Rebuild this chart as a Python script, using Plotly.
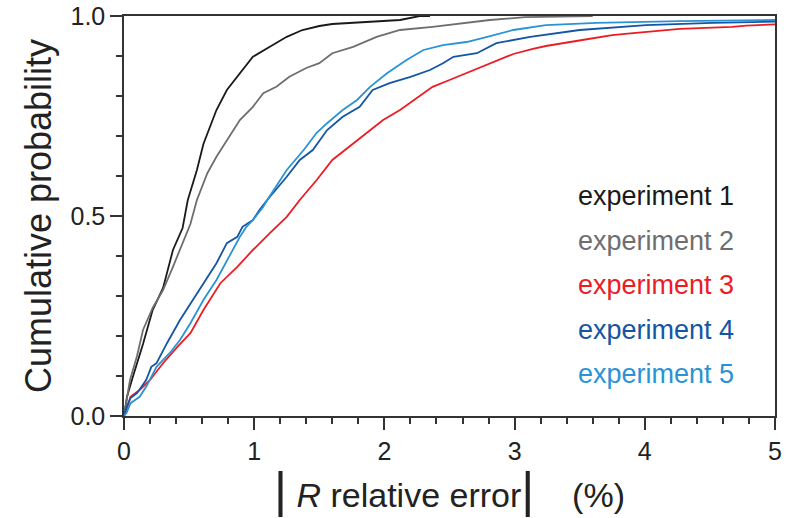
import plotly.graph_objects as go

exp1_x = [0, 0.023, 0.07, 0.146, 0.22, 0.30, 0.376, 0.45, 0.49, 0.56, 0.61, 0.71, 0.79, 0.89, 0.99, 1.12, 1.25, 1.37, 1.50, 1.60, 1.75, 1.94, 2.12, 2.27, 2.35]
exp1_y = [0, 0.048, 0.10, 0.18, 0.265, 0.32, 0.415, 0.47, 0.54, 0.615, 0.68, 0.765, 0.815, 0.857, 0.898, 0.923, 0.948, 0.965, 0.975, 0.980, 0.983, 0.986, 0.990, 1.0, 1.0]

exp2_x = [0, 0.01, 0.046, 0.10, 0.146, 0.22, 0.30, 0.376, 0.45, 0.51, 0.56, 0.64, 0.71, 0.81, 0.89, 0.99, 1.07, 1.17, 1.27, 1.40, 1.50, 1.60, 1.76, 1.94, 2.12, 2.37, 2.58, 2.81, 3.08, 3.52, 3.6]
exp2_y = [0, 0.02, 0.09, 0.15, 0.215, 0.27, 0.315, 0.373, 0.43, 0.48, 0.54, 0.607, 0.648, 0.698, 0.74, 0.773, 0.807, 0.823, 0.848, 0.87, 0.882, 0.907, 0.923, 0.948, 0.965, 0.973, 0.982, 0.990, 0.997, 1.0, 1.0]

exp3_x = [0, 0.02, 0.05, 0.12, 0.20, 0.30, 0.41, 0.51, 0.61, 0.74, 0.87, 0.99, 1.12, 1.25, 1.35, 1.48, 1.60, 1.73, 1.86, 1.99, 2.12, 2.25, 2.37, 2.50, 2.63, 2.76, 2.89, 2.99, 3.14, 3.24, 3.52, 3.75, 3.91, 4.27, 4.67, 4.78, 5.0]
exp3_y = [0, 0.015, 0.048, 0.065, 0.09, 0.132, 0.173, 0.207, 0.265, 0.332, 0.373, 0.415, 0.457, 0.498, 0.54, 0.59, 0.64, 0.673, 0.708, 0.74, 0.765, 0.795, 0.823, 0.84, 0.857, 0.873, 0.89, 0.905, 0.918, 0.925, 0.94, 0.952, 0.957, 0.968, 0.973, 0.976, 0.979]

exp4_x = [0, 0.02, 0.05, 0.10, 0.17, 0.21, 0.25, 0.33, 0.43, 0.53, 0.64, 0.71, 0.79, 0.87, 0.91, 0.99, 1.04, 1.10, 1.25, 1.35, 1.45, 1.56, 1.68, 1.81, 1.91, 2.04, 2.20, 2.35, 2.45, 2.53, 2.71, 2.86, 3.12, 3.50, 4.01, 4.52, 5.0]
exp4_y = [0, 0.023, 0.045, 0.057, 0.09, 0.123, 0.132, 0.182, 0.24, 0.29, 0.348, 0.382, 0.432, 0.448, 0.473, 0.49, 0.515, 0.54, 0.598, 0.64, 0.665, 0.715, 0.748, 0.773, 0.815, 0.832, 0.848, 0.865, 0.882, 0.898, 0.907, 0.932, 0.948, 0.965, 0.977, 0.983, 0.986]

exp5_x = [0, 0.02, 0.05, 0.12, 0.17, 0.25, 0.35, 0.43, 0.51, 0.61, 0.71, 0.81, 0.89, 0.94, 0.99, 1.07, 1.10, 1.25, 1.38, 1.48, 1.56, 1.68, 1.79, 1.89, 2.02, 2.17, 2.30, 2.45, 2.63, 2.79, 2.89, 2.99, 3.24, 3.63, 4.27, 5.0]
exp5_y = [0, 0.008, 0.032, 0.048, 0.073, 0.123, 0.157, 0.19, 0.232, 0.29, 0.34, 0.398, 0.448, 0.473, 0.49, 0.523, 0.54, 0.615, 0.665, 0.708, 0.732, 0.765, 0.79, 0.823, 0.857, 0.89, 0.915, 0.927, 0.935, 0.948, 0.957, 0.965, 0.977, 0.983, 0.987, 0.99]

names = ["experiment 1", "experiment 2", "experiment 3", "experiment 4", "experiment 5"]
colors = ["#1a1a1a", "#6e6e6e", "#ec1c24", "#1455a4", "#2a93d5"]
series = [(exp1_x, exp1_y), (exp2_x, exp2_y), (exp3_x, exp3_y), (exp4_x, exp4_y), (exp5_x, exp5_y)]

x_ticks = [0, 1, 2, 3, 4, 5]
y_ticks = [0.0, 0.5, 1.0]
y_ticklabels = ["0.0", "0.5", "1.0"]

FONT = "Liberation Sans, Arial, sans-serif"

fig = go.Figure()
for (xs, ys), n, c in zip(series, names, colors):
    fig.add_trace(go.Scatter(x=xs, y=ys, mode="lines", name=n,
                             line=dict(color=c, width=1.8), showlegend=False))

# text-only legend
legend_y = [0.55, 0.4375, 0.3275, 0.215, 0.105]
for n, c, ly in zip(names, colors, legend_y):
    fig.add_annotation(text=n, x=0.694, y=ly, xref="paper", yref="paper",
                       xanchor="left", yanchor="middle", showarrow=False,
                       font=dict(family=FONT, size=27, color=c))

axis_common = dict(showline=True, linecolor="#333333", linewidth=1.5, mirror=True,
                   ticks="outside", tickwidth=1.5, tickcolor="#333333", ticklen=12,
                   showgrid=False, zeroline=False, automargin=False,
                   tickfont=dict(family=FONT, size=25, color="#222222"))

fig.update_xaxes(range=[0, 5], tickvals=x_ticks,
                 minor=dict(ticks="outside", ticklen=6, dtick=0.2, tickwidth=1.5, tickcolor="#333333"),
                 title=dict(text="<span style='font-size:50px'>|</span> <i>R</i> relative error<span style='font-size:50px'>|</span>    (%)",
                            font=dict(family=FONT, size=34, color="#222222"), standoff=12),
                 **axis_common)
fig.update_yaxes(range=[0, 1], tickvals=y_ticks, ticktext=y_ticklabels,
                 minor=dict(ticks="outside", ticklen=6, dtick=0.1, tickwidth=1.5, tickcolor="#333333"),
                 title=dict(text="Cumulative probability",
                            font=dict(family=FONT, size=36, color="#222222"), standoff=8),
                 **axis_common)

fig.update_layout(width=786, height=518, margin=dict(l=124, r=11, t=16, b=102),
                  plot_bgcolor="white", paper_bgcolor="white", showlegend=False)

fig.write_html("out.html")
